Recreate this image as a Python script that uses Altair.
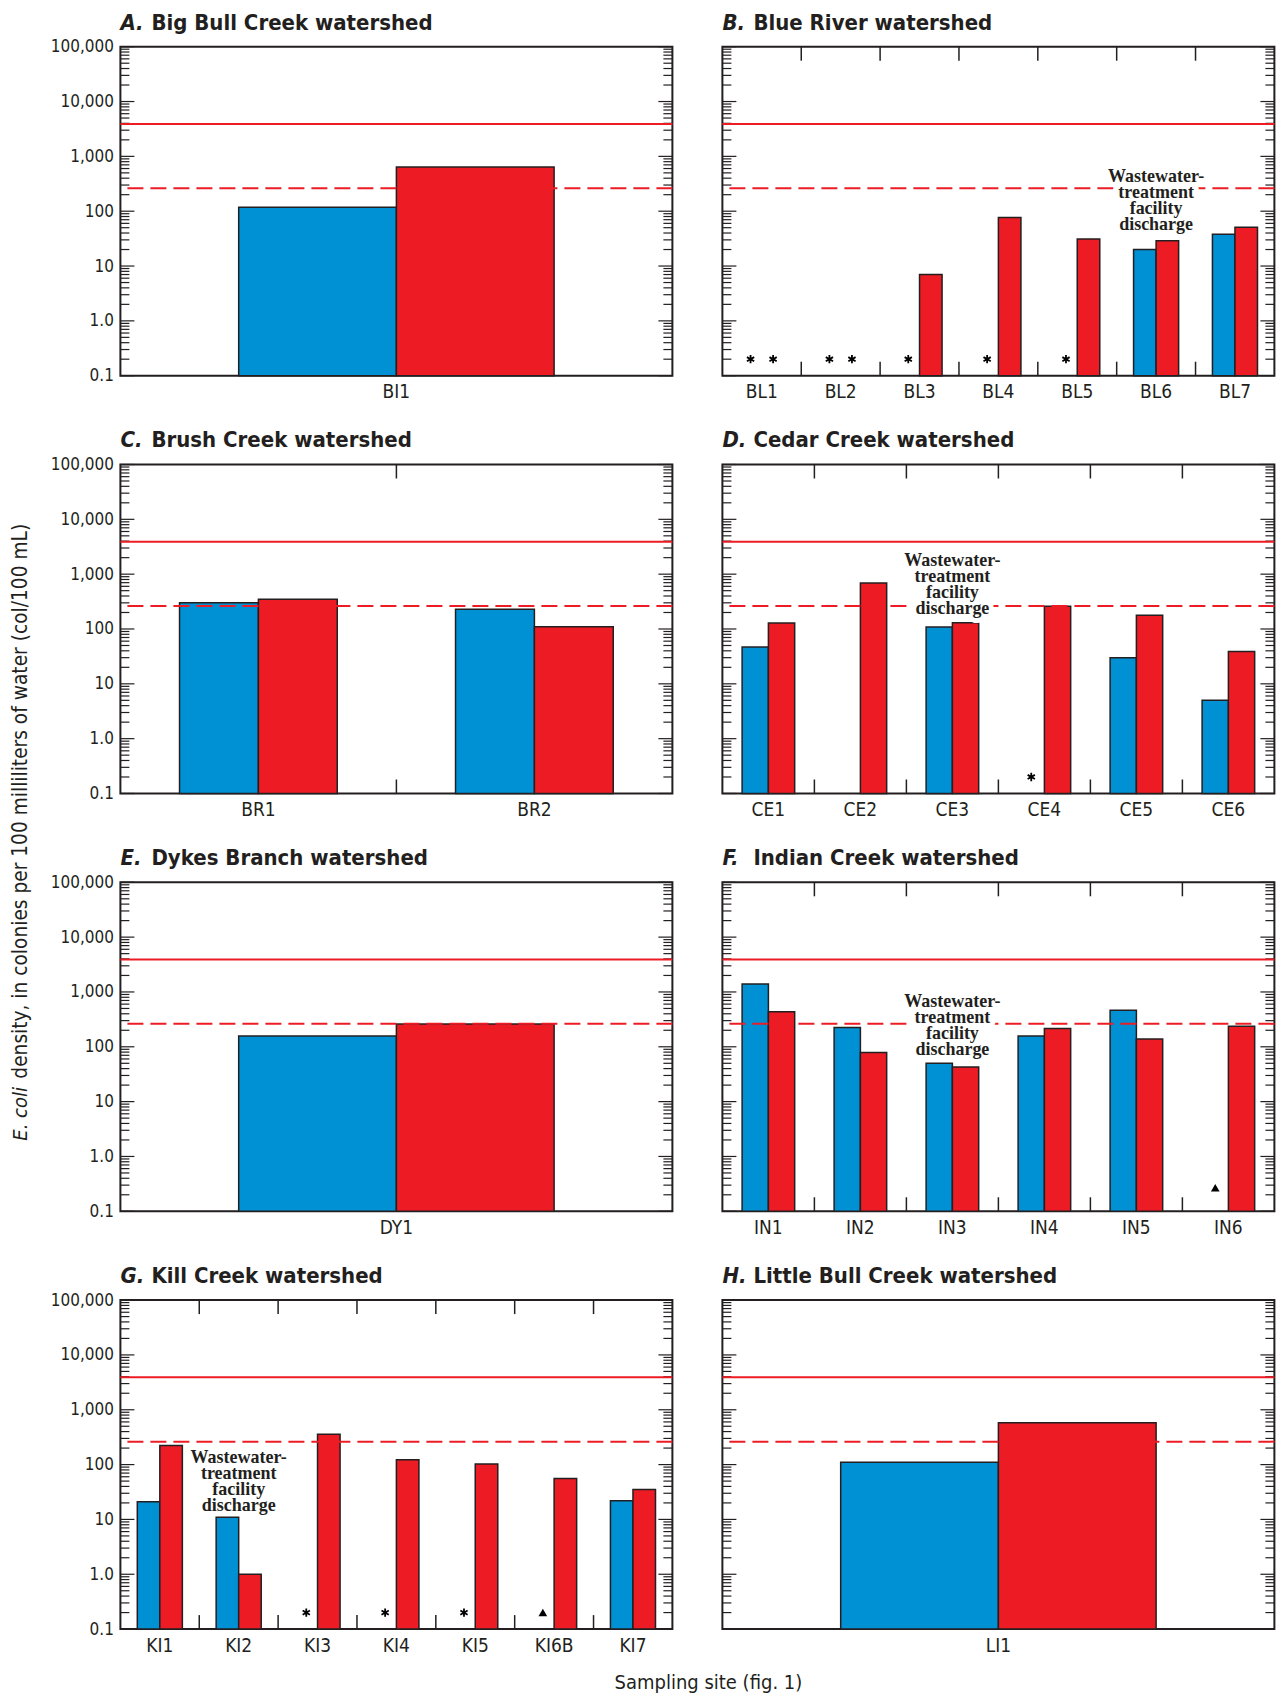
import altair as alt
import pandas as pd

FONT = "'DejaVu Sans Condensed', 'Liberation Sans Narrow', 'Arial Narrow', sans-serif"
SERIF = "'Liberation Serif', 'Times New Roman', 'DejaVu Serif', serif"
BLUE = "#0091D5"
RED = "#ED1C24"
INK = "#231F20"

W, H = 552, 329
YMIN, YMAX = 0.1, 100000
DECADES = [0.1, 1, 10, 100, 1000, 10000, 100000]
MINOR = [m * d for d in [0.1, 1, 10, 100, 1000, 10000] for m in range(2, 10)]
SOLID_CRIT = 3900
DASH_CRIT = 262
NOTE = "Wastewater-\ntreatment\nfacility\ndischarge"
AST = "M0,-1L0,1M-0.87,-0.5L0.87,0.5M-0.87,0.5L0.87,-0.5"

# ---- data ----
a_sites = ["BI1"]
a_blue = [118]
a_red = [640]

b_sites = ["BL1", "BL2", "BL3", "BL4", "BL5", "BL6", "BL7"]
b_blue = [None, None, None, None, None, 20, 38]
b_red = [None, None, 7, 77, 31, 29, 51]
b_mblue = ["*", "*", "*", "*", "*", None, None]
b_mred = ["*", "*", None, None, None, None, None]

c_sites = ["BR1", "BR2"]
c_blue = [300, 230]
c_red = [350, 110]

d_sites = ["CE1", "CE2", "CE3", "CE4", "CE5", "CE6"]
d_blue = [47, None, 109, None, 30, 5]
d_red = [129, 690, 130, 260, 178, 39]
d_mblue = [None, None, None, "*", None, None]

e_sites = ["DY1"]
e_blue = [158]
e_red = [260]

f_sites = ["IN1", "IN2", "IN3", "IN4", "IN5", "IN6"]
f_blue = [1390, 225, 50, 157, 466, None]
f_red = [435, 79, 43, 216, 138, 238]
f_mblue = [None, None, None, None, None, "^"]

g_sites = ["KI1", "KI2", "KI3", "KI4", "KI5", "KI6B", "KI7"]
g_blue = [21, 11, None, None, None, None, 22]
g_red = [222, 1.0, 357, 122, 102, 56, 35]
g_mblue = [None, None, "*", "*", "*", "^", None]

h_sites = ["LI1"]
h_blue = [110]
h_red = [580]


def panel(letter, name, sites, blue, red, mblue=None, mred=None, mval=0.2,
          note_site=None, note_val=None, left=True):
    n = len(sites)
    mblue = mblue or [None] * n
    mred = mred or [None] * n
    xsc = alt.Scale(domain=sites, paddingInner=0, paddingOuter=0)
    xax = alt.Axis(title=None, ticks=False, domain=False, labelAngle=0, labelFont=FONT,
                   labelFontSize=19, labelColor=INK, labelPadding=7)
    ysc = alt.Scale(type="log", domain=[YMIN, YMAX], nice=False)
    if left:
        yax = alt.Axis(title=None, values=DECADES, ticks=False, domain=False, grid=False,
                       labelFont=FONT, labelFontSize=17, labelColor=INK, labelPadding=7,
                       labelExpr="datum.value < 0.5 ? '0.1' : (datum.value < 5 ? '1.0' : format(datum.value, ','))")
    else:
        yax = alt.Axis(title=None, values=DECADES, labels=False, ticks=False, domain=False, grid=False)

    def X(**kw):
        return alt.X("site:N", scale=xsc, axis=xax, **kw)

    def Y(f):
        return alt.Y(f, scale=ysc, axis=yax)

    XO = alt.XOffset("series:N", scale=alt.Scale(domain=["a", "b"], range=[0, W / n],
                                                 paddingInner=0, paddingOuter=0.75))

    rows = []
    for s, b, r in zip(sites, blue, red):
        if b is not None:
            rows.append({"site": s, "series": "a", "value": b})
        if r is not None:
            rows.append({"site": s, "series": "b", "value": r})
    bars_df = pd.DataFrame(rows)

    layers = []
    layers.append(alt.Chart(bars_df).mark_bar(stroke=INK, strokeWidth=1.5).encode(
        x=X(), xOffset=XO, y=Y("value:Q"), y2=alt.datum(YMIN),
        color=alt.Color("series:N", scale=alt.Scale(domain=["a", "b"], range=[BLUE, RED]), legend=None)))

    # y ticks (inside, both sides)
    major_df = pd.DataFrame({"v": DECADES})
    minor_df = pd.DataFrame({"v": MINOR})
    for df, ln in [(major_df, 14), (minor_df, 9)]:
        layers.append(alt.Chart(df).mark_rule(color=INK, strokeWidth=1.2).encode(
            y=Y("v:Q"), x=alt.value(0), x2=alt.value(ln)))
        layers.append(alt.Chart(df).mark_rule(color=INK, strokeWidth=1.2).encode(
            y=Y("v:Q"), x=alt.value(W - ln), x2=alt.value(W)))

    # category boundary ticks top and bottom
    if n > 1:
        bdf = pd.DataFrame({"site": sites[1:]})
        layers.append(alt.Chart(bdf).mark_rule(color=INK, strokeWidth=1.5).encode(
            x=X(bandPosition=0), y=alt.value(0), y2=alt.value(14)))
        layers.append(alt.Chart(bdf).mark_rule(color=INK, strokeWidth=1.5).encode(
            x=X(bandPosition=0), y=alt.value(H - 14), y2=alt.value(H)))

    # criteria lines
    layers.append(alt.Chart(pd.DataFrame({"v": [SOLID_CRIT]})).mark_rule(color=RED, strokeWidth=2).encode(y=Y("v:Q")))
    layers.append(alt.Chart(pd.DataFrame({"v": [DASH_CRIT]})).mark_rule(color=RED, strokeWidth=2, strokeDash=[16, 7]).encode(y=Y("v:Q")))

    # markers
    mrows = []
    for s, mb, mr in zip(sites, mblue, mred):
        if mb:
            mrows.append({"site": s, "series": "a", "sym": mb, "value": mval})
        if mr:
            mrows.append({"site": s, "series": "b", "sym": mr, "value": mval})
    if mrows:
        mdf = pd.DataFrame(mrows)
        ast = mdf[mdf.sym == "*"]
        tri = mdf[mdf.sym == "^"]
        if len(ast):
            layers.append(alt.Chart(ast).mark_point(shape=AST, filled=False, stroke="black", strokeWidth=1.8,
                                                    size=70, opacity=1).encode(x=X(), xOffset=XO, y=Y("value:Q")))
        if len(tri):
            layers.append(alt.Chart(tri).mark_point(shape="triangle-up", filled=True, color="black",
                                                    size=75, opacity=1).encode(x=X(), xOffset=XO, y=Y("value:Q")))

    # annotation
    if note_site:
        ndf = pd.DataFrame({"site": [note_site], "value": [note_val], "t": [NOTE]})
        for halo in (True, False):
            kw = dict(font=SERIF, fontSize=18, fontWeight="bold", lineBreak="\n", lineHeight=16,
                      align="center", baseline="top", color=INK)
            if halo:
                kw.update(stroke="white", strokeWidth=10, strokeJoin="round")
            layers.append(alt.Chart(ndf).mark_text(**kw).encode(x=X(), y=Y("value:Q"), text="t:N"))

    # panel title
    tdf = pd.DataFrame({"l": [letter], "n": [name]})
    layers.append(alt.Chart(tdf).mark_text(font=FONT, fontSize=22, fontWeight="bold", fontStyle="italic",
                                           align="left", baseline="alphabetic", color=INK).encode(
        text="l:N", x=alt.value(0), y=alt.value(-17)))
    layers.append(alt.Chart(tdf).mark_text(font=FONT, fontSize=22, fontWeight="bold",
                                           align="left", baseline="alphabetic", color=INK).encode(
        text="n:N", x=alt.value(31), y=alt.value(-17)))

    return alt.layer(*layers).properties(width=W, height=H)


pA = panel("A.", "Big Bull Creek watershed", a_sites, a_blue, a_red)
pB = panel("B.", "Blue River watershed", b_sites, b_blue, b_red, b_mblue, b_mred,
           note_site="BL6", note_val=610, left=False)
pC = panel("C.", "Brush Creek watershed", c_sites, c_blue, c_red)
pD = panel("D.", "Cedar Creek watershed", d_sites, d_blue, d_red, d_mblue,
           note_site="CE3", note_val=2500, left=False)
pE = panel("E.", "Dykes Branch watershed", e_sites, e_blue, e_red)
pF = panel("F.", "Indian Creek watershed", f_sites, f_blue, f_red, f_mblue, mval=0.27,
           note_site="IN3", note_val=950, left=False)
pG = panel("G.", "Kill Creek watershed", g_sites, g_blue, g_red, g_mblue,
           note_site="KI2", note_val=190)
pH = panel("H.", "Little Bull Creek watershed", h_sites, h_blue, h_red, left=False)

grid = alt.concat(pA, pB, pC, pD, pE, pF, pG, pH, columns=2,
                  spacing=alt.RowColnumber(row=25.8, column=46)).resolve_scale(xOffset="independent")

# shared y-axis title (E. coli in italic)
ytitle = alt.layer(
    alt.Chart(pd.DataFrame({"t": ["E. coli"]})).mark_text(
        font=FONT, fontSize=20, fontStyle="italic", angle=270, align="left", baseline="middle", color=INK
    ).encode(text="t:N", x=alt.value(10), y=alt.value(1094)),
    alt.Chart(pd.DataFrame({"t": ["density, in colonies per 100 milliliters of water (col/100 mL)"]})).mark_text(
        font=FONT, fontSize=20.7, angle=270, align="left", baseline="middle", color=INK
    ).encode(text="t:N", x=alt.value(10), y=alt.value(1032)),
).properties(width=20, height=1100, view=alt.ViewBackground(stroke="transparent", strokeWidth=0))

chart = alt.hconcat(ytitle, grid, spacing=17).resolve_scale(xOffset="independent").properties(
    padding={"left": 9.4, "top": 10.7, "right": 0, "bottom": 0},
    background="white",
    title=alt.TitleParams("Sampling site (fig. 1)", orient="bottom", anchor="start", align="center",
                          dx=698, offset=16.6, font=FONT, fontSize=20, fontWeight="normal", color=INK),
).configure_view(stroke=INK, strokeWidth=2)

chart.save("out.html", embed_options={"renderer": "svg", "actions": False})
